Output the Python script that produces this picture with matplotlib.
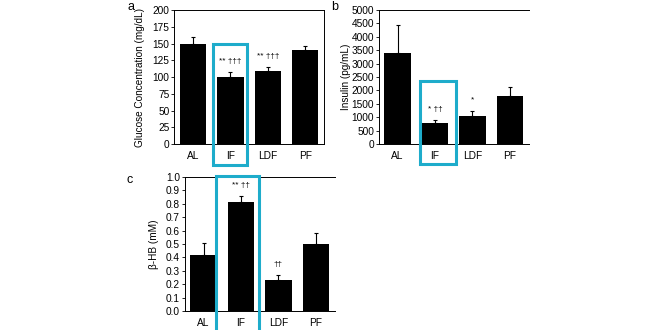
import numpy as np
import matplotlib
matplotlib.use("Agg")
import matplotlib.pyplot as plt
from matplotlib.patches import Rectangle

plt.rcParams['font.family'] = ['Liberation Sans', 'DejaVu Sans']

groups = ["AL", "IF", "LDF", "PF"]

glucose = [150, 100, 109, 141]
glucose_err = [10, 8, 6, 5]
glucose_marks = ["", "** †††", "** †††", ""]

insulin = [3400, 780, 1050, 1800]
insulin_err = [1050, 120, 200, 320]
insulin_marks = ["", "* ††", "*", ""]

bhb = [0.42, 0.81, 0.23, 0.50]
bhb_err = [0.09, 0.05, 0.04, 0.08]
bhb_marks = ["", "** ††", "††", ""]

fig = plt.figure(figsize=(6.6, 3.3), dpi=100)
blue = '#1eaccb'


def panel(rect, vals, errs, marks, ylim, yticks, ylabel, fmt, letter, letter_xy,
          lpad, right_spine):
    ax = fig.add_axes(rect)
    x = np.arange(len(groups))
    ax.bar(x, vals, width=0.7, color='black',
           yerr=[np.zeros(len(vals)), errs], capsize=1.5,
           error_kw=dict(elinewidth=0.8, capthick=0.8, ecolor='black'))
    for xi, v, e, m in zip(x, vals, errs, marks):
        if m:
            ax.text(xi, v + e + (ylim[1] - ylim[0]) * 0.05, m, ha='center',
                    va='bottom', fontsize=6)
    ax.set_xlim(-0.5, len(groups) - 0.5)
    ax.set_ylim(*ylim)
    ax.set_yticks(yticks)
    ax.set_yticklabels([fmt.format(t) for t in yticks])
    ax.set_xticks(x)
    ax.set_xticklabels(groups)
    ax.tick_params(axis='x', length=0, labelsize=7.3, pad=5)
    ax.tick_params(axis='y', length=2, width=0.6, labelsize=7.3, pad=1.5)
    ax.set_ylabel(ylabel, fontsize=7.2, labelpad=lpad)
    ax.spines['right'].set_visible(right_spine)
    for s in ax.spines.values():
        s.set_linewidth(0.7)
    ax.text(letter_xy[0], letter_xy[1], letter, transform=ax.transAxes,
            fontsize=9, va='center')
    return ax


panel([0.264, 0.5636, 0.227, 0.406], glucose, glucose_err, glucose_marks,
      (0, 200), np.arange(0, 201, 25), "Glucose Concentration (mg/dL)", "{:g}",
      'a', (-0.315, 1.02), 5.5, True)
panel([0.574, 0.5636, 0.227, 0.406], insulin, insulin_err, insulin_marks,
      (0, 5000), np.arange(0, 5001, 500), "Insulin (pg/mL)", "{:g}",
      'b', (-0.32, 1.02), 0.5, False)
panel([0.280, 0.0576, 0.227, 0.406], bhb, bhb_err, bhb_marks,
      (0, 1.0), np.round(np.arange(0, 1.01, 0.1), 1), "β-HB (mM)", "{:.1f}",
      'c', (-0.39, 0.98), 5, False)

# highlight boxes around IF
for (x0, y0, x1, y1) in [(213, 44, 247, 165), (420, 81, 456, 164), (216, 176, 259, 332)]:
    fig.add_artist(Rectangle((x0 / 660, 1 - y1 / 330), (x1 - x0) / 660, (y1 - y0) / 330,
                             transform=fig.transFigure, fill=False,
                             edgecolor=blue, linewidth=2.2, clip_on=False))

fig.savefig("out.png", dpi=100)
